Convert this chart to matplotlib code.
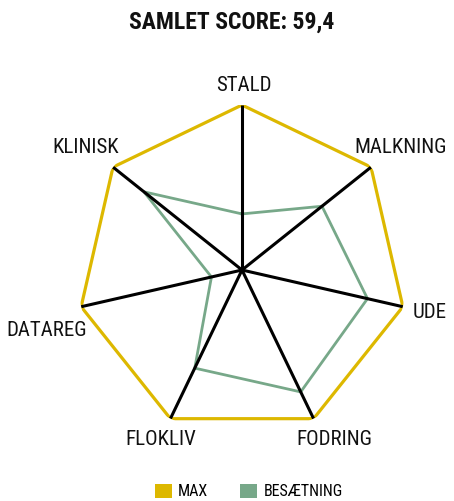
import numpy as np
import matplotlib
matplotlib.use("Agg")
import matplotlib.pyplot as plt
from matplotlib.patches import Patch
from matplotlib import font_manager as fm

categories = ["STALD", "MALKNING", "UDE", "FODRING", "FLOKLIV", "DATAREG", "KLINISK"]
max_values = [100, 100, 100, 100, 100, 100, 100]
herd_values = [34, 62, 78, 82, 66, 19, 76]
title = "SAMLET SCORE: 59,4"
legend_labels = ["MAX", "BESÆTNING"]

YELLOW = "#DDB800"
GREEN = "#77A889"

# find a condensed font if one is installed
cands = []
for f in fm.fontManager.ttflist:
    low = (f.name + " " + f.fname).lower()
    if ('condensed' in low or 'narrow' in low or f.stretch in ('condensed', 'semi-condensed')) \
            and 'italic' not in low and 'oblique' not in low and f.style == 'normal':
        cands.append(f)

def pick(weight_bold):
    for pref in ['roboto', 'liberation', 'dejavu', 'open', 'noto', '']:
        for f in cands:
            low = (f.name + " " + f.fname).lower()
            if pref in low:
                w = f.weight if isinstance(f.weight, int) else (700 if 'bold' in str(f.weight) else 400)
                isbold = w >= 600
                if isbold == weight_bold and 'light' not in low and 'thin' not in low and 'black' not in low \
                        and 'medium' not in low and 'semibold' not in low and 'extra' not in low:
                    return fm.FontProperties(fname=f.fname)
    return None

reg = pick(False)
bold = pick(True)
if reg is None:
    reg = fm.FontProperties(family='DejaVu Sans')
if bold is None:
    bold = fm.FontProperties(family='DejaVu Sans', weight='bold')

n = len(categories)
angles = np.linspace(0, 2 * np.pi, n, endpoint=False)

fig = plt.figure(figsize=(4.54, 5.01), dpi=100)
ax = fig.add_axes([0.1696, 0.1317, 0.7269, 0.6587], projection='polar')
ax.set_theta_zero_location('N')
ax.set_theta_direction(-1)
ax.set_ylim(0, 100)
ax.grid(False)
ax.spines['polar'].set_visible(False)
ax.set_xticks([])
ax.set_yticks([])
ax.patch.set_alpha(0)

closed = np.append(angles, angles[0])
ax.plot(closed, max_values + max_values[:1], color=YELLOW, lw=2.3, zorder=2,
        solid_joinstyle='miter')
ax.plot(closed, herd_values + herd_values[:1], color=GREEN, lw=2.0, zorder=3,
        solid_joinstyle='miter')
for a, m in zip(angles, max_values):
    ax.plot([a, a], [0, m], color='black', lw=2.2, zorder=4, solid_capstyle='butt')

label_style = {
    "STALD": ((1, 7), 'center', 'bottom'),
    "MALKNING": ((21, 7), 'center', 'bottom'),
    "UDE": ((7, -4), 'left', 'center'),
    "FODRING": ((15, -8), 'center', 'top'),
    "FLOKLIV": ((-7, -8), 'center', 'top'),
    "DATAREG": ((4, -17), 'right', 'center'),
    "KLINISK": ((-20, 7), 'center', 'bottom'),
}
lp = reg.copy(); lp.set_size(15)
for a, c, m in zip(angles, categories, max_values):
    off, ha, va = label_style[c]
    ax.annotate(c, xy=(a, m), xytext=off, textcoords='offset points',
                ha=ha, va=va, fontproperties=lp, color='#111111', annotation_clip=False)

tp = bold.copy(); tp.set_size(17)
fig.text(0.51, 0.955, title, ha='center', va='center', fontproperties=tp, color='#111111')

handles = [Patch(facecolor=YELLOW, edgecolor='none'),
           Patch(facecolor=GREEN, edgecolor='none')]
gp = reg.copy(); gp.set_size(11.5)
fig.legend(handles, legend_labels, loc='center', bbox_to_anchor=(0.548, 0.019),
           ncol=2, frameon=False, prop=gp, handlelength=1.05, handleheight=1.05,
           handletextpad=0.4, columnspacing=2.0)

fig.savefig("out.png", dpi=100)
